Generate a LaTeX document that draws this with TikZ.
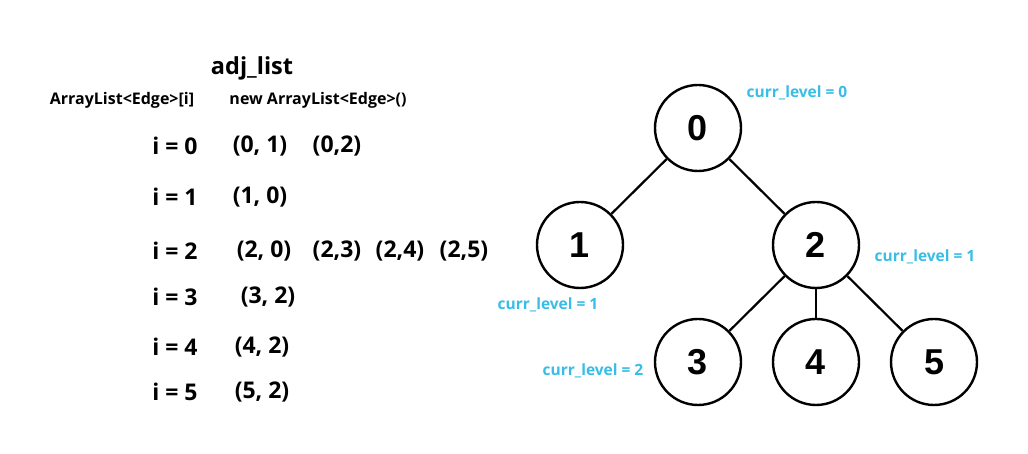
\documentclass[tikz,border=0pt]{standalone}
\usepackage{fontspec}
\setmainfont{Open Sans}
\newfontfamily\numfont{Liberation Sans}
\usepackage{xcolor}
\usetikzlibrary{arrows}
\definecolor{levelblue}{RGB}{56,189,230}
\tikzset{
    txt/.style = {align=center, inner sep=0pt, font=\fontsize{23}{27}\selectfont\bfseries},
    head/.style = {txt, font=\fontsize{16}{19}\selectfont\bfseries},
    title/.style = {txt, font=\fontsize{23.5}{28}\selectfont\bfseries},
    lvl/.style = {align=center, inner sep=0pt, levelblue, font=\fontsize{15.5}{18}\selectfont\bfseries}
}
\tikzset{
    treenode/.style = {align=center, inner sep=0pt, text centered},
    num_node/.style = {treenode, circle, draw=black, fill=white, line width=2.4pt, minimum size=86pt, font=\numfont\fontsize{36}{42}\selectfont\bfseries}
}
\begin{document}
\begin{tikzpicture}[x=1pt, y=1pt]
\useasboundingbox (0,0) rectangle (1028,454);
% adjacency list
\node [title] (adj) at (252,386) {adj\_list};
\node [head] (hidx) at (122,354) {ArrayList<Edge>[i]};
\node [head] (hnew) at (318,354) {new ArrayList<Edge>()};
\node [txt] (i0) at (175,308) {i = 0};
\node [txt] (e01) at (260,308) {(0, 1)};
\node [txt] (e02) at (337,308) {(0,2)};
\node [txt] (i1) at (175,257) {i = 1};
\node [txt] (e10) at (260,257) {(1, 0)};
\node [txt] (i2) at (175,203) {i = 2};
\node [txt] (e20) at (264,203) {(2, 0)};
\node [txt] (e23) at (337,203) {(2,3)};
\node [txt] (e24) at (400,203) {(2,4)};
\node [txt] (e25) at (464,203) {(2,5)};
\node [txt] (i3) at (175,157) {i = 3};
\node [txt] (e32) at (268,157) {(3, 2)};
\node [txt] (i4) at (175,107) {i = 4};
\node [txt] (e42) at (262,107) {(4, 2)};
\node [txt] (i5) at (175,62) {i = 5};
\node [txt] (e52) at (262,62) {(5, 2)};
% tree
\begin{scope}[-, line width=2.2pt, level/.style={sibling distance = 236pt/#1, level distance = 117pt}]
\node (n0) [num_node] at (698,326) {0}
    child{ node (n1) [num_node] {1} }
    child{
        node (n2) [num_node] {2}
        child{ node (n3) [num_node] {3} }
        child{ node (n4) [num_node] {4} }
        child{ node (n5) [num_node] {5} }
    }
    ;
\end{scope}
% levels
\node [lvl] (l0) at (797,361) {curr\_level = 0};
\node [lvl] (l2) at (925,197) {curr\_level = 1};
\node [lvl] (l1) at (548,149) {curr\_level = 1};
\node [lvl] (l3) at (593,83) {curr\_level = 2};
\end{tikzpicture}
\end{document}
